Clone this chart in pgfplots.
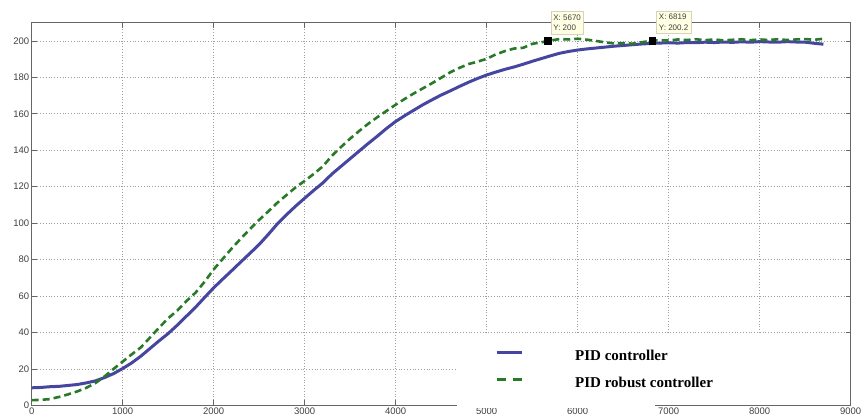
\documentclass[border=0pt]{standalone}
\usepackage{fontspec}
\setmainfont{Liberation Serif}
\newfontfamily\arialfont{Liberation Sans}
\usepackage{pgfplots}
\pgfplotsset{compat=1.18}
\definecolor{pidblue}{HTML}{4646A0}
\definecolor{pidgreen}{HTML}{287A28}
\definecolor{tipfill}{HTML}{FFFFE4}
\definecolor{tipdraw}{HTML}{D8D2B8}

\begin{document}
\begin{tikzpicture}
\begin{axis}[
  name=ax,
  scale only axis,
  width=819pt, height=382.6pt,
  xmin=0, xmax=9000,
  ymin=0, ymax=210,
  xtick={0,1000,...,9000},
  ytick={0,20,...,200},
  scaled x ticks=false,
  tick pos=both,
  tick align=inside,
  major tick length=5pt,
  grid=major,
  major grid style={gray!75, line width=0.6pt, dash pattern=on 0.6pt off 2.2pt},
  axis line style={gray!80!black, line width=0.7pt},
  tick style={gray!80!black, line width=0.6pt},
  /pgf/number format/assume math mode=true,
  /pgf/number format/1000 sep={},
  ticklabel style={font=\arialfont\fontsize{9.5}{11}\selectfont, text=black!75},
  xticklabel style={yshift=1pt},
  yticklabel style={xshift=1pt},
  clip mode=individual,
  legend style={draw=none, fill=none, at={(axis cs:5091,30.6)}, anchor=north west,
    inner sep=0pt, row sep=13.5pt,
    nodes={inner sep=0pt, text height=10.5pt, text depth=3pt},
    font=\bfseries\fontsize{15}{17}\selectfont},
  legend cell align=left,
  /tikz/every odd column/.append style={column sep=52pt},
]
\addplot[pidblue, line width=3pt, line join=round,
  legend image code/.code={\draw[pidblue, line width=3pt] (0pt,4pt) -- (25pt,4pt);}]
  coordinates {
(0,9.6) (100,9.8) (200,10.2) (300,10.4) (400,10.9) (500,11.4) (600,12.3) (700,13.4)
(800,15.2) (900,17.4) (1000,20.2) (1100,23.3) (1200,27.0) (1300,31.2) (1400,35.4)
(1500,39.4) (1600,44.0) (1700,48.9) (1800,53.8) (1900,59.2) (2000,64.5) (2100,69.3)
(2200,74.0) (2300,78.8) (2400,83.5) (2500,88.3) (2600,93.8) (2700,99.6) (2800,104.6)
(2900,109.3) (3000,113.7) (3100,118.0) (3200,122.1) (3300,127.0) (3400,131.2)
(3500,135.4) (3600,139.6) (3700,143.8) (3800,147.8) (3900,152.0) (4000,155.8)
(4100,159.0) (4200,162.0) (4300,165.0) (4400,167.7) (4500,170.3) (4600,172.6)
(4700,175.0) (4800,177.3) (4900,179.4) (5000,181.3) (5100,182.9) (5200,184.4)
(5300,185.7) (5400,187.2) (5500,188.8) (5600,190.3) (5700,191.8) (5800,193.2)
(5900,194.2) (6000,195.0) (6100,195.6) (6200,196.1) (6300,196.6) (6400,197.1)
(6500,197.5) (6600,197.9) (6700,198.3) (6800,198.6) (6900,198.8) (7000,199.0)
(7100,198.8) (7200,199.1) (7300,199.0) (7400,199.3) (7500,199.1) (7600,199.4)
(7700,199.2) (7800,199.5) (7900,199.3) (8000,199.6) (8100,199.4) (8200,199.3)
(8300,199.6) (8400,199.4) (8500,199.3) (8600,198.7) (8700,198.2)
};
\addlegendentry{PID controller}
\addplot[pidgreen, line width=2.6pt, dash pattern=on 7pt off 4pt,
  legend image code/.code={\draw[pidgreen, line width=2.6pt, dash pattern=on 9pt off 7pt] (0pt,4pt) -- (25pt,4pt);}]
  coordinates {
(0,2.8) (100,3.0) (200,3.4) (300,4.6) (400,6.0) (500,7.6) (600,9.6) (700,12.2)
(800,15.8) (900,20.0) (1000,24.0) (1100,28.0) (1200,31.8) (1300,37.2) (1400,42.6)
(1500,47.8) (1600,52.0) (1700,57.2) (1800,61.8) (1900,67.8) (2000,74.6) (2100,80.4)
(2200,86.2) (2300,91.6) (2400,96.8) (2500,101.8) (2600,106.4) (2700,111.2)
(2800,115.4) (2900,119.6) (3000,123.2) (3100,127.0) (3200,131.2) (3300,137.0)
(3400,141.8) (3500,146.4) (3600,150.6) (3700,154.6) (3800,158.2) (3900,161.6)
(4000,165.0) (4100,168.2) (4200,171.2) (4300,174.0) (4400,176.8) (4500,179.8)
(4600,182.8) (4700,185.2) (4800,187.3) (4900,188.6) (5000,190.2) (5100,192.6)
(5200,194.4) (5300,195.8) (5400,196.2) (5500,198.4) (5600,199.2) (5670,200.0)
(5800,201.0) (5900,200.8) (6000,201.2) (6100,200.7) (6200,200.0) (6300,199.2)
(6400,198.6) (6500,198.8) (6600,198.5) (6700,199.2) (6819,200.2) (6900,200.4)
(7000,200.2) (7100,200.8) (7200,200.5) (7300,200.9) (7400,200.4) (7500,200.8)
(7600,200.3) (7700,200.6) (7800,200.9) (7900,200.4) (8000,200.8) (8100,200.5)
(8200,200.9) (8300,200.5) (8400,200.8) (8500,201.0) (8600,200.6) (8700,201.2)
};
\addlegendentry{PID robust controller}
% white patch behind the legend
\fill[white] (axis cs:4674,0.3) rectangle (axis cs:8990,39.2);
\fill[white] (axis cs:4674,-1.5) rectangle (axis cs:6850,1);
% data tips
\addplot[only marks, mark=square*, mark size=3.3pt, black, forget plot]
  coordinates {(5670,200) (6819,200.2)};
\node[draw=tipdraw, fill=tipfill, anchor=south west, inner xsep=2.5pt, inner ysep=3pt,
  align=left, font=\arialfont\fontsize{8}{10.5}\selectfont, text=black!75]
  at ([xshift=3pt,yshift=7pt]axis cs:5670,200) {X: 5670\\Y: 200};
\node[draw=tipdraw, fill=tipfill, anchor=south west, inner xsep=2.5pt, inner ysep=3pt,
  align=left, font=\arialfont\fontsize{8}{10.5}\selectfont, text=black!75]
  at ([xshift=4pt,yshift=7pt]axis cs:6819,200.2) {X: 6819\\Y: 200.2};
\end{axis}
\pgfresetboundingbox
\path ([xshift=-31.7pt,yshift=-14.4pt]ax.south west) rectangle ([xshift=13.3pt,yshift=22.7pt]ax.north east);
\end{tikzpicture}
\end{document}
